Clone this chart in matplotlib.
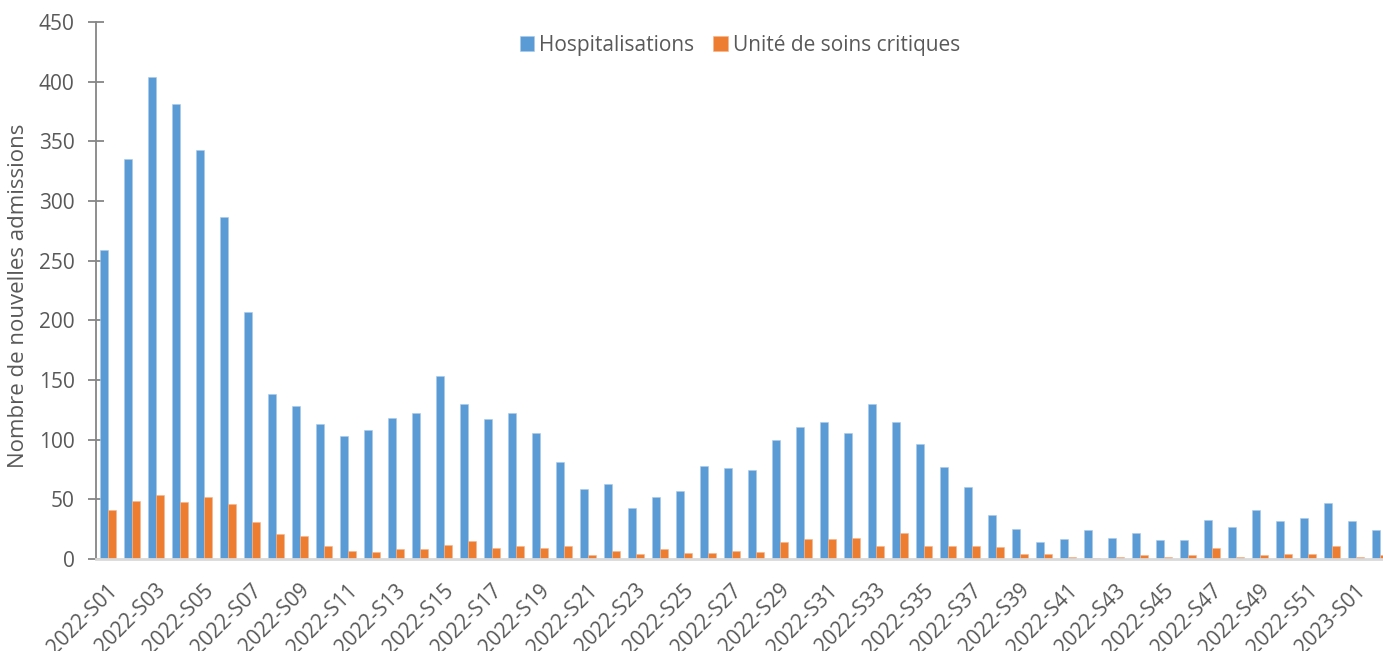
import matplotlib
matplotlib.use("Agg")
import matplotlib.pyplot as plt
import matplotlib.transforms as mtransforms
import numpy as np

weeks = [f"2022-S{i:02d}" for i in range(1, 53)] + ["2023-S01", "2023-S02"]

hospitalisations = [259, 335, 404, 381, 343, 287, 207, 138, 128, 113,
                    103, 108, 118, 122, 153, 130, 117, 122, 106, 81,
                    59, 63, 43, 52, 57, 78, 76, 75, 100, 111,
                    115, 106, 130, 115, 96, 77, 60, 37, 25, 14,
                    17, 24, 18, 22, 16, 16, 33, 27, 41, 32,
                    34, 47, 32, 24]

soins_critiques = [41, 49, 54, 48, 52, 46, 31, 21, 19, 11,
                   7, 6, 8, 8, 12, 15, 9, 11, 9, 11,
                   3, 7, 4, 8, 5, 5, 7, 6, 14, 17,
                   17, 18, 11, 22, 11, 11, 11, 10, 4, 4,
                   2, 1, 2, 3, 2, 3, 9, 2, 3, 4,
                   4, 11, 2, 3]

yticks = [0, 50, 100, 150, 200, 250, 300, 350, 400, 450]

FONT = "Open Sans"
TXT = "#595959"
BLUE = "#5B9BD5"
ORANGE = "#ED7D31"

plt.rcParams["font.family"] = [FONT, "DejaVu Sans"]

W, H = 1383, 651
fig = plt.figure(figsize=(W / 100, H / 100), dpi=100)
left_px, right_px = 96, 1392
bottom_px, top_px = 559, 22
ax = fig.add_axes([left_px / W, (H - bottom_px) / H,
                   (right_px - left_px) / W, (bottom_px - top_px) / H])

x = np.arange(len(weeks))
bw = 1 / 3
ax.bar(x - bw / 2, hospitalisations, width=bw, color=BLUE,
       edgecolor="#A9C9EA", linewidth=0.4, label="Hospitalisations", zorder=2)
ax.bar(x + bw / 2, soins_critiques, width=bw, color=ORANGE,
       edgecolor="#F5B58E", linewidth=0.4, label="Unité de soins critiques", zorder=2)

ax.set_xlim(-0.5, len(weeks) - 0.5)
ax.set_ylim(0, 450)
ax.set_yticks(yticks)
ax.set_yticklabels([str(v) for v in yticks], fontsize=15, color=TXT)

for s in ["top", "right"]:
    ax.spines[s].set_visible(False)
ax.spines["left"].set_color("#868686")
ax.spines["left"].set_linewidth(1.3)
ax.spines["bottom"].set_color("#D9D9D9")
ax.spines["bottom"].set_linewidth(2.0)
ax.spines["bottom"].set_zorder(3)

ax.tick_params(axis="y", direction="inout", length=11, width=1.3,
               color="#868686", pad=10)
ax.tick_params(axis="x", length=0, pad=15)

ax.set_xticks(x[::2])
ax.set_xticklabels(weeks[::2], rotation=45, ha="right",
                   rotation_mode="anchor", fontsize=15, color=TXT)
offset = mtransforms.ScaledTranslation(-1 / 100, 0, fig.dpi_scale_trans)
for lab in ax.get_xticklabels():
    lab.set_transform(lab.get_transform() + offset)

fig.text(19 / W, 1 - 296 / H, "Nombre de nouvelles admissions", rotation=90,
         ha="center", va="center", fontsize=16, color=TXT)

leg = fig.legend(loc="center", bbox_to_anchor=(740 / W, 1 - 45 / H), ncol=2,
                 frameon=False, fontsize=15, handlelength=0.7, handleheight=0.7,
                 handletextpad=0.25, columnspacing=0.9, labelcolor=TXT)

fig.savefig("out.png", dpi=100)
